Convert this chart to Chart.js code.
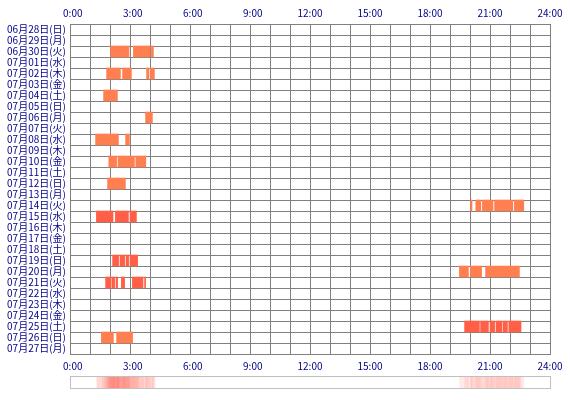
<!DOCTYPE html>
<html>
<head>
<meta charset="utf-8">
<script src="https://cdn.jsdelivr.net/npm/chart.js@4"></script>
<style>
  body { margin: 0; background: #fff; }
  #wrap { position: relative; width: 570px; height: 400px; }
  #main { position: absolute; left: 0; top: 0; }
  #stripBox { position: absolute; left: 70px; top: 376px; width: 481px; height: 13px;
              border: 1px solid #c0c0c0; box-sizing: border-box; }
</style>
</head>
<body>
<div id="wrap">
  <canvas id="main" width="570" height="374"></canvas>
  <div id="stripBox"><canvas id="strip" width="479" height="11"></canvas></div>
</div>
<script>
// days shown on the left, top to bottom
var dates = [
  '06月28日(日)', '06月29日(月)', '06月30日(火)', '07月01日(水)', '07月02日(木)',
  '07月03日(金)', '07月04日(土)', '07月05日(日)', '07月06日(月)', '07月07日(火)',
  '07月08日(水)', '07月09日(木)', '07月10日(金)', '07月11日(土)', '07月12日(日)',
  '07月13日(月)', '07月14日(火)', '07月15日(水)', '07月16日(木)', '07月17日(金)',
  '07月18日(土)', '07月19日(日)', '07月20日(月)', '07月21日(火)', '07月22日(水)',
  '07月23日(木)', '07月24日(金)', '07月25日(土)', '07月26日(日)', '07月27日(月)'
];

var hourLabels = ['0:00', '3:00', '6:00', '9:00', '12:00', '15:00', '18:00', '21:00', '24:00'];

// [day index, from hour, to hour]
var lightSleep = [
  [2, 2.03, 2.95], [2, 3.17, 4.0], [2, 4.07, 4.17],
  [4, 1.83, 2.52], [4, 2.63, 3.07], [4, 3.83, 3.95], [4, 4.02, 4.22],
  [6, 1.68, 2.37],
  [8, 3.78, 4.12],
  [10, 1.28, 2.42], [10, 2.78, 2.97],
  [12, 1.94, 2.33], [12, 2.4, 3.22], [12, 3.29, 3.79],
  [14, 1.88, 2.77],
  [16, 20.03, 20.1], [16, 20.29, 20.54], [16, 20.62, 21.15], [16, 21.23, 22.14], [16, 22.22, 22.69],
  [22, 19.47, 19.92], [22, 20.02, 20.58], [22, 20.78, 22.47],
  [28, 1.57, 2.17], [28, 2.33, 3.13]
];

var deepSleep = [
  [17, 1.32, 2.15], [17, 2.27, 2.92], [17, 3.0, 3.32],
  [21, 2.13, 2.43], [21, 2.5, 2.73], [21, 2.8, 2.93], [21, 3.0, 3.38],
  [23, 1.78, 2.05], [23, 2.1, 2.23], [23, 2.3, 2.38], [23, 2.57, 2.73], [23, 3.12, 3.65], [23, 3.73, 3.78],
  [27, 19.73, 20.47], [27, 20.53, 20.92], [27, 21.0, 21.23], [27, 21.3, 21.59], [27, 21.65, 21.87], [27, 21.94, 22.55]
];

var navy = '#000088';
var gridGray = '#808080';
var font = { family: "'Noto Sans CJK JP', sans-serif", size: 10 };

function toBars(list) {
  return list.map(function(s) { return { x: [s[1], s[2]], y: dates[s[0]] }; });
}

function hourTick(v) {
  if (v % 3 !== 0) return '';
  var t = hourLabels[v / 3];
  return t.length < 5 ? '\u2007' + t : t;
}

var barStyle = { borderWidth: 0, borderSkipped: false, grouped: false,
                 barPercentage: 1, categoryPercentage: 1 };

new Chart(document.getElementById('main'), {
  type: 'bar',
  data: {
    labels: dates,
    datasets: [
      Object.assign({ data: toBars(lightSleep), backgroundColor: '#ff7f50' }, barStyle),
      Object.assign({ data: toBars(deepSleep), backgroundColor: '#ff5f46' }, barStyle)
    ]
  },
  options: {
    indexAxis: 'y',
    responsive: false,
    animation: false,
    layout: { padding: { left: 0, right: 20, top: 0, bottom: 0 } },
    plugins: { legend: { display: false }, tooltip: { enabled: false } },
    scales: {
      x: {
        type: 'linear', position: 'bottom', min: 0, max: 24, z: 1,
        grid: { color: gridGray, drawTicks: false },
        border: { color: gridGray },
        ticks: { stepSize: 1, autoSkip: false, maxRotation: 0, color: navy, font: font,
                 padding: 6, callback: hourTick },
        afterFit: function(s) { s.height = 20; }
      },
      x2: {
        type: 'linear', position: 'top', min: 0, max: 24,
        grid: { display: false, drawTicks: false },
        border: { display: false },
        ticks: { stepSize: 1, autoSkip: false, maxRotation: 0, color: navy, font: font,
                 padding: 5, callback: hourTick },
        afterFit: function(s) { s.height = 24; }
      },
      y: {
        z: 1,
        grid: { color: gridGray, drawTicks: false },
        border: { color: gridGray },
        ticks: { color: navy, font: font, padding: 4, autoSkip: false },
        afterFit: function(s) { s.width = 70; }
      }
    }
  }
});

// density strip: every segment drawn faintly on one row so overlaps add up
var allSleep = lightSleep.concat(deepSleep);
new Chart(document.getElementById('strip'), {
  type: 'bar',
  data: {
    labels: ['all'],
    datasets: [Object.assign({
      data: allSleep.map(function(s) { return { x: [s[1], s[2]], y: 'all' }; }),
      backgroundColor: 'rgba(255, 90, 75, 0.13)'
    }, barStyle)]
  },
  options: {
    indexAxis: 'y',
    responsive: false,
    animation: false,
    layout: { padding: 0 },
    plugins: { legend: { display: false }, tooltip: { enabled: false } },
    scales: {
      x: { type: 'linear', min: 0, max: 24, display: false },
      y: { display: false }
    }
  }
});
</script>
</body>
</html>
